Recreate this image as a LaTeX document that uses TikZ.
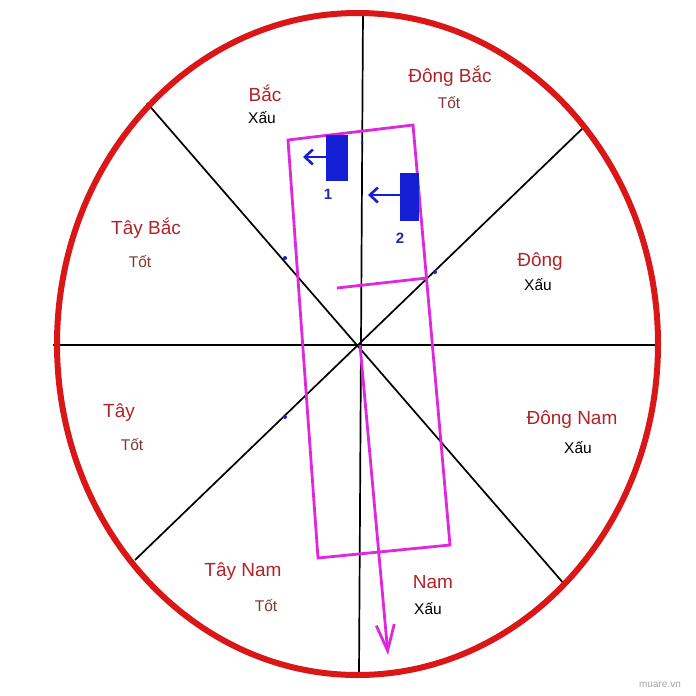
\documentclass[tikz,border=0pt]{standalone}
\usepackage{fontspec}
\setmainfont{Liberation Sans}
\usetikzlibrary{arrows.meta}
\definecolor{ringred}{RGB}{218,22,22}
\definecolor{dirred}{RGB}{178,34,40}
\definecolor{goodc}{RGB}{125,55,55}
\definecolor{mag}{RGB}{222,40,222}
\definecolor{blu}{RGB}{20,30,210}
\definecolor{bluelab}{RGB}{30,45,160}
\begin{document}
\begin{tikzpicture}[x=1pt,y=-1pt,
  axis/.style={black,line width=1.7pt},
  ring/.style={ringred,line width=6pt},
  magline/.style={mag,line width=2.8pt},
  dirname/.style={text=dirred,font=\fontsize{19}{22}\selectfont,inner sep=0pt},
  bad/.style={text=black,font=\fontsize{15.5}{18}\selectfont,inner sep=0pt},
  good/.style={text=goodc,font=\fontsize{15.5}{18}\selectfont,inner sep=0pt},
  bluebar/.style={fill=blu,draw=blu,line width=0.6pt},
  bluearrow/.style={blu,line width=2.8pt,-{Straight Barb[length=8pt,width=15pt,line width=2.6pt]}},
  numlab/.style={text=bluelab,font=\bfseries\fontsize{15}{18}\selectfont,inner sep=0pt},
  bluedot/.style={fill=blu,draw=none}
]
\useasboundingbox (0,0) rectangle (696,696);
\fill[white] (0,0) rectangle (696,696);

% axis end points
\coordinate (O) at (360,345);
\coordinate (N) at (363,12);
\coordinate (S) at (359,675);
\coordinate (W) at (53,345);
\coordinate (E) at (660,345);
\coordinate (NW) at (147,103);
\coordinate (SE) at (565,585);
\coordinate (NE) at (583,128);
\coordinate (SW) at (135,560);

\draw[axis] (N) -- (S);
\draw[axis] (W) -- (E);
\draw[axis] (NW) -- (SE);
\draw[axis] (NE) -- (SW);

% outer ring
\draw[ring] (357.5,344) ellipse [x radius=300.5pt, y radius=331pt];

% blue dots
\fill[bluedot] (285,258) circle [radius=2pt];
\fill[bluedot] (435,272) circle [radius=2pt];
\fill[bluedot] (285,417) circle [radius=2pt];
\fill[bluedot] (362,143) circle [radius=1.5pt];

% magenta house outline
\coordinate (R1) at (288,140);
\coordinate (R2) at (413,125);
\coordinate (R3) at (450,545);
\coordinate (R4) at (318,558);
\draw[magline,line join=miter] (R1) -- (R2) -- (R3) -- (R4) -- cycle;
\coordinate (L1) at (337,288);
\coordinate (L2) at (427,278);
\draw[magline] (L1) -- (L2);
\coordinate (T) at (388,655);
\draw[magline,-{Straight Barb[length=26pt,width=18pt,line width=2.8pt]}] (O) -- (T);

% blue bars and arrows
\draw[bluebar] (326,135) rectangle (347,180);
\draw[bluebar] (400,173) rectangle (418,220);
\coordinate (A1s) at (326,157);
\coordinate (A1e) at (303,157);
\coordinate (A2s) at (400,195);
\coordinate (A2e) at (368,195);
\draw[bluearrow] (A1s) -- (A1e);
\draw[bluearrow] (A2s) -- (A2e);
\node[numlab] (n1) at (328,194) {1};
\node[numlab] (n2) at (400,238) {2};

% direction labels
\node[dirname] (bac) at (265,93) {Bắc};
\node[bad] (bacq) at (262,118) {Xấu};
\node[dirname] (dbac) at (450,76) {Đông Bắc};
\node[good] (dbacq) at (449,103) {Tốt};
\node[dirname] (tbac) at (146,228) {Tây Bắc};
\node[good] (tbacq) at (140,262) {Tốt};
\node[dirname] (dong) at (540,262) {Đông};
\node[bad] (dongq) at (538,285) {Xấu};
\node[dirname] (tay) at (119,413) {Tây};
\node[good] (tayq) at (132,445) {Tốt};
\node[dirname] (dnam) at (572,420) {Đông Nam};
\node[bad] (dnamq) at (578,448) {Xấu};
\node[dirname] (tnam) at (243,572) {Tây Nam};
\node[good] (tnamq) at (266,606) {Tốt};
\node[dirname] (nam) at (433,582) {Nam};
\node[bad] (namq) at (428,609) {Xấu};

\node[text=black!35,font=\fontsize{10}{12}\selectfont,inner sep=0pt] (wm) at (660,685) {muare.vn};
\end{tikzpicture}
\end{document}
